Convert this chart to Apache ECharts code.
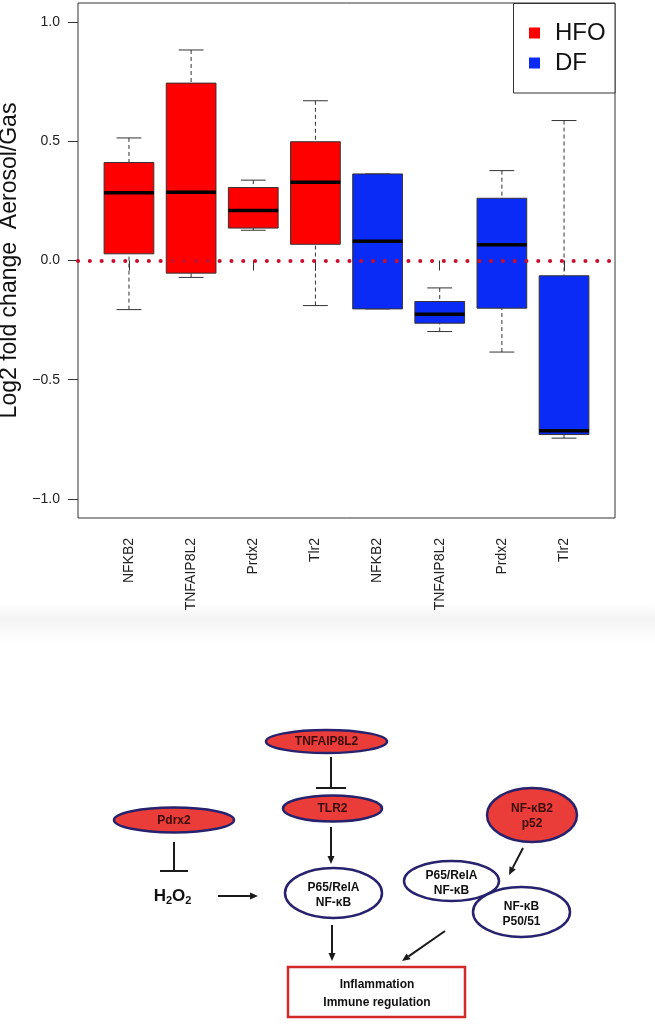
<!DOCTYPE html>
<html>
<head>
<meta charset="utf-8">
<script src="https://cdn.jsdelivr.net/npm/echarts@6/dist/echarts.min.js"></script>
<style>
html,body{margin:0;padding:0;background:#fff;}
#chart{width:655px;height:1032px;}
</style>
</head>
<body>
<div id="chart"></div>
<script>
// ---- data ----
const categories = ['NFKB2', 'TNFAIP8L2', 'Prdx2', 'Tlr2', 'NFKB2', 'TNFAIP8L2', 'Prdx2', 'Tlr2'];
const groups = ['HFO', 'DF'];
// [lower whisker, Q1, median, Q3, upper whisker]
const hfoBoxes = [
  [-0.206, 0.028, 0.284, 0.411, 0.514],
  [-0.071, -0.053, 0.286, 0.744, 0.883],
  [0.127, 0.136, 0.210, 0.306, 0.337],
  [-0.189, 0.068, 0.328, 0.498, 0.670]
];
const dfBoxes = [
  [-0.203, -0.203, 0.081, 0.363, 0.363],
  [-0.298, -0.263, -0.225, -0.172, -0.115],
  [-0.384, -0.200, 0.066, 0.261, 0.377],
  [-0.745, -0.730, -0.714, -0.064, 0.587]
];
const yTicks = [-1, -0.5, 0, 0.5, 1];
const xTicks = [1, 2, 3, 4, 5, 6, 7, 8];
const refLine = 0;

const FONT = '"Liberation Sans", Arial, sans-serif';
const RED = '#ff0000';
const BLUE = '#0a2bf5';

const hfoData = hfoBoxes.map((b, i) => [i + 1].concat(b));
const dfData = dfBoxes.map((b, i) => [i + 1 + hfoBoxes.length].concat(b));

function renderBox(params, api) {
  const x = api.value(0);
  const pLow = api.coord([x, api.value(1)]);
  const pQ1 = api.coord([x, api.value(2)]);
  const pMed = api.coord([x, api.value(3)]);
  const pQ3 = api.coord([x, api.value(4)]);
  const pHigh = api.coord([x, api.value(5)]);
  const bw = api.size([0.8, 0])[0];
  const cw = api.size([0.4, 0])[0];
  const cx = pMed[0];
  const color = api.visual('color');
  const dash = {stroke: '#333', lineWidth: 1, lineDash: [4, 3]};
  const solid = {stroke: '#333', lineWidth: 1};
  return {
    type: 'group',
    children: [
      {type: 'line', shape: {x1: cx, y1: pHigh[1], x2: cx, y2: pQ3[1]}, style: dash},
      {type: 'line', shape: {x1: cx, y1: pLow[1], x2: cx, y2: pQ1[1]}, style: dash},
      {type: 'line', shape: {x1: cx - cw / 2, y1: pHigh[1], x2: cx + cw / 2, y2: pHigh[1]}, style: solid},
      {type: 'line', shape: {x1: cx - cw / 2, y1: pLow[1], x2: cx + cw / 2, y2: pLow[1]}, style: solid},
      {type: 'rect', shape: {x: cx - bw / 2, y: pQ3[1], width: bw, height: pQ1[1] - pQ3[1]},
        style: {fill: color, stroke: '#333', lineWidth: 1}},
      {type: 'line', shape: {x1: cx - bw / 2, y1: pMed[1], x2: cx + bw / 2, y2: pMed[1]},
        style: {stroke: '#000', lineWidth: 3.5}}
    ]
  };
}

// ---- diagram helpers ----
const OUT = '#27226e';
const diag = [];
function ell(cx, cy, rx, ry, fill) {
  diag.push({type: 'ellipse', shape: {cx, cy, rx, ry}, style: {fill, stroke: OUT, lineWidth: 2.5}});
}
function txt(x, y, text, color, size, lh) {
  diag.push({type: 'text', x, y, style: {text, fill: color, font: 'bold ' + size + 'px ' + FONT,
    align: 'center', verticalAlign: 'middle', lineHeight: lh || size + 3}});
}
function seg(x1, y1, x2, y2, w) {
  diag.push({type: 'line', shape: {x1, y1, x2, y2}, style: {stroke: '#1a1a1a', lineWidth: w || 2}});
}
function arrow(x1, y1, x2, y2) {
  const dx = x2 - x1, dy = y2 - y1, L = Math.sqrt(dx * dx + dy * dy);
  const ux = dx / L, uy = dy / L, hl = 8, hw = 3.5;
  const bx = x2 - ux * hl, by = y2 - uy * hl;
  seg(x1, y1, bx, by, 2);
  diag.push({type: 'polygon', shape: {points: [[x2, y2], [bx - uy * hw, by + ux * hw], [bx + uy * hw, by - ux * hw]]},
    style: {fill: '#1a1a1a'}});
}
function inhibit(x, y1, y2, half) {
  seg(x, y1, x, y2, 2);
  seg(x - half, y2, x + half, y2, 2);
}
const EFILL = '#ea3d39';
const ETXT = '#3a0c0c';

// faint separator band
diag.push({type: 'rect', shape: {x: 0, y: 602, width: 655, height: 42},
  style: {fill: {type: 'linear', x: 0, y: 0, x2: 0, y2: 1,
    colorStops: [{offset: 0, color: '#ffffff'}, {offset: 0.4, color: '#f4f4f4'}, {offset: 1, color: '#ffffff'}]}}, z: -10});

ell(326.5, 741.5, 60.5, 11.5, EFILL); txt(326.5, 742, 'TNFAIP8L2', ETXT, 12);
inhibit(331, 757, 788, 15);
ell(332.5, 808.5, 49.5, 13, EFILL); txt(332.5, 809, 'TLR2', ETXT, 12);
arrow(331, 827, 331, 864);
ell(174, 820, 60, 12.5, EFILL); txt(174, 820.5, 'Pdrx2', ETXT, 12);
inhibit(174, 842, 871, 14);
diag.push({type: 'text', x: 172.5, y: 896, style: {
  text: '{a|H}{s|2}{a|O}{s|2}', align: 'center', verticalAlign: 'middle',
  rich: {
    a: {font: 'bold 17px ' + FONT, fill: '#111', lineHeight: 20},
    s: {font: 'bold 11px ' + FONT, fill: '#111', lineHeight: 6, verticalAlign: 'bottom'}
  }}});
arrow(218, 896, 258, 896);
ell(333.5, 893, 48.5, 25, '#fff'); txt(333.5, 895, 'P65/RelA\nNF-κB', '#111', 12, 15);
ell(532, 815, 45, 27, EFILL); txt(532, 816, 'NF-κB2\np52', ETXT, 12, 15);
arrow(523, 848, 509, 875);
ell(451.5, 881, 47.5, 20, '#fff'); txt(451.5, 883, 'P65/RelA\nNF-κB', '#111', 12, 15);
ell(521.5, 912, 48.5, 25, '#fff'); txt(521.5, 914, 'NF-κB\nP50/51', '#111', 12, 15);
arrow(332, 925, 332, 961);
arrow(445, 931, 402, 961);
diag.push({type: 'rect', shape: {x: 288, y: 967, width: 177, height: 50},
  style: {fill: 'none', stroke: '#d02a2a', lineWidth: 2.5}});
txt(377, 994, 'Inflammation\nImmune regulation', '#111', 12, 18);

// legend frame
diag.push({type: 'rect', shape: {x: 513.5, y: 3.5, width: 101.5, height: 89.5},
  style: {fill: '#fff', stroke: '#333', lineWidth: 1}, z: 3});

const chart = echarts.init(document.getElementById('chart'), null, {renderer: 'canvas'});
chart.setOption({
  animation: false,
  backgroundColor: '#fff',
  textStyle: {fontFamily: FONT},
  grid: {left: 78, top: 3, width: 537, height: 515, show: true, borderColor: '#333', borderWidth: 1,
    backgroundColor: 'transparent', containLabel: false, outerBoundsMode: 'none'},
  legend: {
    data: groups, orient: 'vertical', left: 529, top: 21, padding: 0,
    itemWidth: 11, itemHeight: 11, itemGap: 6, icon: 'rect', z: 10,
    textStyle: {fontSize: 24, color: '#111', lineHeight: 24, padding: [0, 0, 0, 10]},
    selectedMode: false
  },
  xAxis: {
    type: 'value', min: 0.18, max: 8.82,
    axisLine: {show: false},
    splitLine: {show: false},
    axisTick: {show: true, length: 10, customValues: xTicks, lineStyle: {color: '#333'}},
    axisLabel: {customValues: xTicks, rotate: 90, margin: 20, fontSize: 14, color: '#222',
      formatter: v => categories[Math.round(v) - 1]}
  },
  yAxis: {
    type: 'value', min: -1.08, max: 1.08,
    name: 'Log2 fold change  Aerosol/Gas', nameLocation: 'middle', nameGap: 47,
    nameTextStyle: {fontSize: 23, color: '#111'},
    axisLine: {show: false},
    splitLine: {show: false},
    axisTick: {show: true, length: 10, customValues: yTicks, lineStyle: {color: '#333'}},
    axisLabel: {customValues: yTicks, margin: 18, fontSize: 14, color: '#222',
      formatter: v => v.toFixed(1).replace('-', '\u2212')}
  },
  graphic: {elements: diag},
  series: [
    {name: groups[0], type: 'custom', renderItem: renderBox, data: hfoData,
      itemStyle: {color: RED}, encode: {x: 0, y: [1, 2, 3, 4, 5]}, z: 2},
    {name: groups[1], type: 'custom', renderItem: renderBox, data: dfData,
      itemStyle: {color: BLUE}, encode: {x: 0, y: [1, 2, 3, 4, 5]}, z: 2},
    {type: 'line', data: [], z: 5, silent: true,
      markLine: {symbol: 'none', silent: true, label: {show: false},
        lineStyle: {color: '#c8102e', width: 4, type: [0.1, 11.7], cap: 'round'},
        data: [{yAxis: refLine}]}}
  ]
});
</script>
</body>
</html>
